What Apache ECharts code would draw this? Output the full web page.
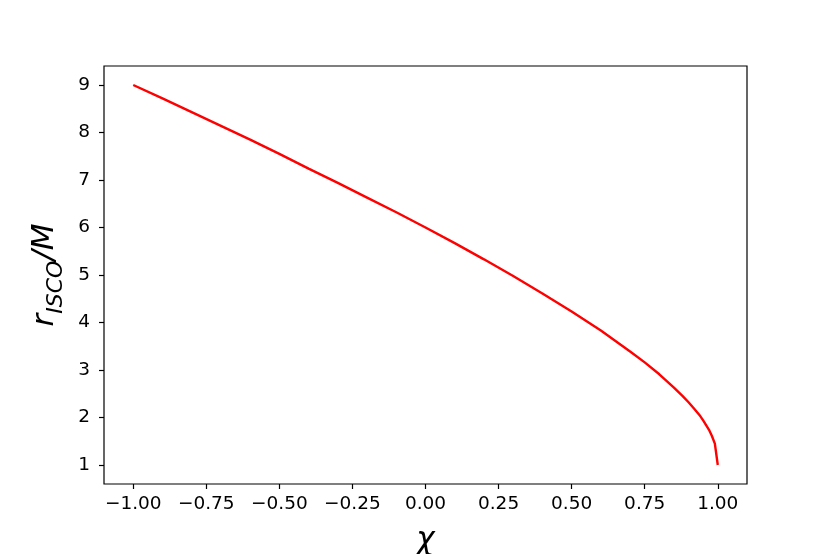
<!DOCTYPE html>
<html><head><meta charset="utf-8">
<script src="https://cdn.jsdelivr.net/npm/echarts@6/dist/echarts.min.js"></script>
<style>html,body{margin:0;padding:0;background:#fff}#c{width:830px;height:554px}</style>
</head><body><div id="c"></div>
<script>
const chi = [-1.0,-0.9,-0.8,-0.7,-0.6,-0.5,-0.4,-0.3,-0.2,-0.1,0.0,0.1,0.2,0.3,0.4,0.5,0.6,0.65,0.7,0.75,0.8,0.85,0.88,0.9,0.92,0.94,0.95,0.96,0.97,0.98,0.99,1.0];
const rIsco = [9.0,8.72,8.43,8.14,7.85,7.55,7.24,6.94,6.63,6.32,6.0,5.67,5.33,4.98,4.61,4.23,3.83,3.61,3.39,3.16,2.91,2.63,2.45,2.32,2.18,2.03,1.94,1.84,1.74,1.61,1.45,1.0];
const xTicks = [-1.0,-0.75,-0.5,-0.25,0.0,0.25,0.5,0.75,1.0];
const yTicks = [1,2,3,4,5,6,7,8,9];

const chart = echarts.init(document.getElementById('c'));
const fmtX = v => { const s = Math.abs(v).toFixed(2); return (v < -1e-9 ? '\u2212' : '') + s; };
chart.setOption({
  animation: false,
  grid: {left: 104, right: 83, top: 66, bottom: 70, show: true, borderColor: '#000', borderWidth: 1.2, containLabel: false, outerBoundsMode: 'none'},
  xAxis: {
    type: 'value', min: -1.1, max: 1.1,
    splitLine: {show: false},
    axisLine: {show: false, onZero: false},
    axisTick: {show: true, customValues: xTicks, length: 5, inside: false, lineStyle: {color: '#000', width: 1.2}},
    axisLabel: {customValues: xTicks, formatter: fmtX, color: '#000', fontSize: 18.5, fontFamily: 'DejaVu Sans', margin: 11},
    name: 'χ', nameLocation: 'middle', nameGap: 41,
    nameTextStyle: {fontSize: 31, fontStyle: 'italic', fontFamily: 'DejaVu Sans', color: '#000'}
  },
  yAxis: {
    type: 'value', min: 0.6, max: 9.4,
    splitLine: {show: false},
    axisLine: {show: false, onZero: false},
    axisTick: {show: true, customValues: yTicks, length: 5, lineStyle: {color: '#000', width: 1.2}},
    axisLabel: {customValues: yTicks, color: '#000', fontSize: 18.5, fontFamily: 'DejaVu Sans', margin: 14},
    name: '{r|r}{s|ISCO}{r|/M}', nameLocation: 'middle', nameGap: 40, nameRotate: 90,
    nameTextStyle: {
      color: '#000',
      rich: {
        r: {fontSize: 31, fontStyle: 'italic', fontFamily: 'DejaVu Sans', color: '#000', verticalAlign: 'bottom', lineHeight: 38},
        s: {fontSize: 22, fontStyle: 'italic', fontFamily: 'DejaVu Sans', color: '#000', verticalAlign: 'bottom', lineHeight: 38, padding: [0,0,-7,0]}
      }
    }
  },
  series: [{
    type: 'line', data: chi.map((x, i) => [x, rIsco[i]]),
    showSymbol: false, smooth: false,
    lineStyle: {color: '#ff0000', width: 2.4}
  }]
});
</script></body></html>
